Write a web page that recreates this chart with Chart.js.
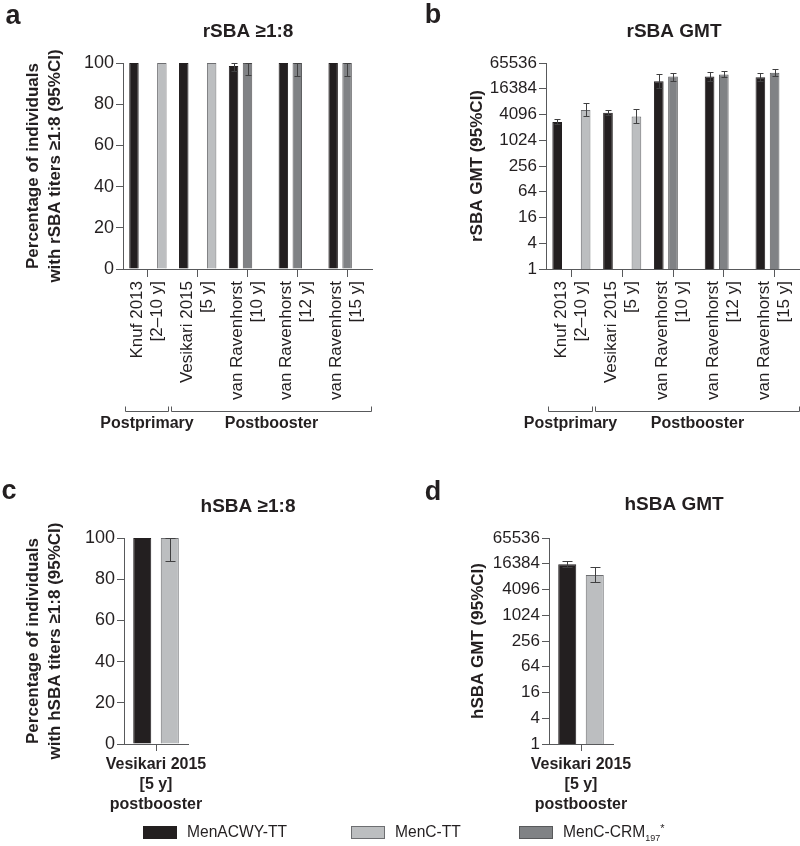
<!DOCTYPE html>
<html>
<head>
<meta charset="utf-8">
<script src="https://cdn.jsdelivr.net/npm/chart.js@4.4.1/dist/chart.umd.min.js"></script>
<style>
  html, body { margin: 0; padding: 0; background: #fff; }
  #wrap { position: relative; width: 800px; height: 846px; background: #fff; overflow: hidden; font-family: "Liberation Sans", Arial, sans-serif; color: #231f20; }
  canvas { position: absolute; }
  .lbox { position: absolute; width: 32px; height: 11px; border: 1px solid #555; }
  .ltxt { position: absolute; font-size: 15.6px; line-height: 16px; white-space: nowrap; }
  .ltxt sub { font-size: 9px; vertical-align: -4px; line-height: 0; }
  .ltxt sup { font-size: 11px; vertical-align: 5px; line-height: 0; }
</style>
</head>
<body>
<div id="wrap">
  <canvas id="ca" width="400" height="440" style="left:0;top:0;width:400px;height:440px"></canvas>
  <canvas id="cb" width="400" height="440" style="left:400px;top:0;width:400px;height:440px"></canvas>
  <canvas id="cc" width="400" height="406" style="left:0;top:440px;width:400px;height:406px"></canvas>
  <canvas id="cd" width="400" height="406" style="left:400px;top:440px;width:400px;height:406px"></canvas>

  <div class="lbox" style="left:143px;top:826px;background:#231f20;border-color:#231f20"></div>
  <div class="ltxt" style="left:187px;top:824px">MenACWY-TT</div>
  <div class="lbox" style="left:351px;top:826px;background:#bcbec0;border-color:#6d6e71"></div>
  <div class="ltxt" style="left:395px;top:824px">MenC-TT</div>
  <div class="lbox" style="left:519px;top:826px;background:#808285;border-color:#58595b"></div>
  <div class="ltxt" style="left:563px;top:824px">MenC-CRM<sub>197</sub><sup>*</sup></div>
</div>
<script>
// ---------- data ----------
const studyLabels = [["Knuf 2013", "[2\u201310 y]"], ["Vesikari 2015", "[5 y]"], ["van Ravenhorst", "[10 y]"], ["van Ravenhorst", "[12 y]"], ["van Ravenhorst", "[15 y]"]];
const hsbaLabels = [["Vesikari 2015", "[5 y]", "postbooster"]];
const seriesNames = ["MenACWY-TT", "MenC-TT", "MenC-CRM197*"];
const groupNames = ["Postprimary", "Postbooster"];

// panel a: rSBA >= 1:8 (%)
const rPctACWY = [100, 100, 98.5, 100, 100];
const rPctACWYLo = [null, null, 96, null, null];
const rPctACWYHi = [null, null, 100, null, null];
const rPctCRM = [null, null, 100, 100, 100];
const rPctCRMLo = [null, null, 94, 93.7, 93.7];
const rPctCRMHi = [null, null, 100, 100, 100];
const rPctTT = [100, 100, null, null, null];

// panel b: rSBA GMT
const rGmtACWY = [2750, 4500, 24500, 31500, 30300];
const rGmtACWYLo = [2400, 4000, 17000, 25000, 24500];
const rGmtACWYHi = [3300, 5200, 36400, 40400, 39000];
const rGmtCRM = [null, null, 31500, 35100, 39000];
const rGmtCRMLo = [null, null, 25300, 30300, 32800];
const rGmtCRMHi = [null, null, 37700, 41800, 46400];
const rGmtTT = [5200, 3700, null, null, null];
const rGmtTTLo = [3770, 2530, null, null, null];
const rGmtTTHi = [7440, 5400, null, null, null];

// panel c: hSBA >= 1:8 (%)
const hPctACWY = [100];
const hPctTT = [100];
const hPctTTLo = [89];
const hPctTTHi = [100];

// panel d: hSBA GMT
const hGmtACWY = [15850];
const hGmtACWYLo = [13500];
const hGmtACWYHi = [18900];
const hGmtTT = [8900];
const hGmtTTLo = [6100];
const hGmtTTHi = [13500];

const pctTicks = [0, 20, 40, 60, 80, 100];
const gmtTicks = [1, 4, 16, 64, 256, 1024, 4096, 16384, 65536];

// ---------- styles ----------
const FONT = '"Liberation Sans", Arial, sans-serif';
const TXT = '#231f20';
const AX = '#58595b';
const C_ACWY = '#231f20', B_ACWY = '#231f20';
const C_TT = '#bcbec0', B_TT = '#6d6e71';
const C_CRM = '#808285', B_CRM = '#58595b';

Chart.defaults.font.family = FONT;
Chart.defaults.color = TXT;

const annot = {
  id: 'annot',
  afterDatasetsDraw(chart) {
    const ctx = chart.ctx, ys = chart.scales.y;
    ctx.save();
    ctx.strokeStyle = '#404041';
    ctx.lineWidth = 1;
    chart.data.datasets.forEach((ds, di) => {
      if (!ds.errLo) return;
      const meta = chart.getDatasetMeta(di);
      meta.data.forEach((bar, i) => {
        const lo = ds.errLo[i], hi = ds.errHi[i];
        if (lo == null || hi == null) return;
        const x = Math.round(bar.x) + 0.5;
        const y1 = Math.round(ys.getPixelForValue(lo)) + 0.5;
        const y2 = Math.round(ys.getPixelForValue(hi)) + 0.5;
        const cw = ds.capW || 3;
        ctx.beginPath();
        ctx.moveTo(x, y1); ctx.lineTo(x, y2);
        ctx.moveTo(x - cw, y1); ctx.lineTo(x + cw, y1);
        ctx.moveTo(x - cw, y2); ctx.lineTo(x + cw, y2);
        ctx.stroke();
      });
    });
    ctx.restore();
  },
  afterDraw(chart, args, o) {
    const ctx = chart.ctx;
    ctx.save();
    ctx.fillStyle = TXT;
    // panel letter
    ctx.font = 'bold 27px ' + FONT;
    ctx.textAlign = 'center'; ctx.textBaseline = 'alphabetic';
    ctx.fillText(o.letter, o.letterX, o.letterY);
    // panel title
    ctx.font = 'bold 19px ' + FONT;
    ctx.textBaseline = 'middle';
    ctx.fillText(o.title, o.titleX, o.titleY);
    // rotated category labels, placed at the category scale's own tick pixels
    if (o.rotLabels) {
      const xs = chart.scales.x;
      ctx.font = '17px ' + FONT;
      ctx.textAlign = 'right'; ctx.textBaseline = 'middle';
      chart.data.labels.forEach((lines, i) => {
        const px = xs.getPixelForValue(i);
        const n = lines.length;
        lines.forEach((ln, k) => {
          ctx.save();
          ctx.translate(px + (k - (n - 1) / 2) * 20 - 0.5, xs.top + o.labelTop);
          ctx.rotate(-Math.PI / 2);
          ctx.fillText(ln, 0, 0);
          ctx.restore();
        });
      });
    }
    // group brackets
    if (o.brackets) {
      const xs = chart.scales.x, ca = chart.chartArea;
      const split = xs.getPixelForValue(0.5);
      const spans = [[ca.left + 1.5, split - 4.5], [split - 1.5, ca.right - 1.5]];
      ctx.strokeStyle = AX; ctx.lineWidth = 1;
      ctx.font = 'bold 16px ' + FONT;
      ctx.textAlign = 'center';
      ctx.textBaseline = 'alphabetic';
      spans.forEach((s, k) => {
        const a = Math.round(s[0]) + 0.5, b = Math.round(s[1]) + 0.5;
        ctx.beginPath();
        ctx.moveTo(a, o.bracketY - 5); ctx.lineTo(a, o.bracketY); ctx.lineTo(b, o.bracketY); ctx.lineTo(b, o.bracketY - 5);
        ctx.stroke();
        ctx.fillText(groupNames[k], (a + b) / 2, o.bracketY + 16.5);
      });
    }
    ctx.restore();
  }
};

function yPct(width, titleLines, titlePad) {
  return {
    type: 'linear', min: 0, max: 100,
    afterBuildTicks: s => { s.ticks = pctTicks.map(v => ({ value: v })); },
    afterFit: s => { s.width = width; s.paddingTop = 0; s.paddingBottom = 0; },
    ticks: { font: { size: 18 }, color: TXT, padding: 2 },
    grid: { drawOnChartArea: false, tickLength: 7, color: AX },
    border: { color: AX },
    title: { display: true, text: titleLines, font: { size: 17, weight: 'bold', lineHeight: 1.3 }, color: TXT, padding: { top: titlePad, bottom: 0 } }
  };
}
function yGmt(width, titleText, titlePad) {
  return {
    type: 'logarithmic', min: 1, max: 65536,
    afterBuildTicks: s => { s.ticks = gmtTicks.map(v => ({ value: v })); },
    afterFit: s => { s.width = width; s.paddingTop = 0; s.paddingBottom = 0; },
    ticks: { font: { size: 17 }, color: TXT, padding: 2, callback: v => String(v) },
    grid: { drawOnChartArea: false, tickLength: 7, color: AX },
    border: { color: AX },
    title: { display: true, text: titleText, font: { size: 17, weight: 'bold', lineHeight: 1.3 }, color: TXT, padding: { top: titlePad, bottom: 0 } }
  };
}
function xRot(height) {
  return {
    type: 'category',
    afterFit: s => { s.height = height; s.paddingLeft = 0; s.paddingRight = 0; },
    ticks: { display: false, autoSkip: false },
    grid: { drawOnChartArea: false, offset: false, tickLength: 8, color: AX },
    border: { color: AX }
  };
}
function xFlat(height) {
  return {
    type: 'category',
    afterFit: s => { s.height = height; s.paddingLeft = 0; s.paddingRight = 0; },
    ticks: { font: { size: 16, weight: 'bold', lineHeight: 1.25 }, color: TXT, maxRotation: 0, minRotation: 0, autoSkip: false, padding: 4 },
    grid: { drawOnChartArea: false, offset: false, tickLength: 7, color: AX },
    border: { color: AX }
  };
}
function bar(label, data, bg, bd, lo, hi, extra) {
  return Object.assign({ label, data, backgroundColor: bg, borderColor: bd, borderWidth: 1, borderSkipped: 'start', errLo: lo, errHi: hi }, extra || {});
}
function common(padding, annotOpts) {
  return {
    responsive: false, animation: false, devicePixelRatio: 1,
    layout: { padding },
    plugins: { legend: { display: false }, tooltip: { enabled: false }, annot: annotOpts }
  };
}

// panel a
new Chart(document.getElementById('ca'), {
  type: 'bar',
  data: {
    labels: studyLabels,
    datasets: [
      bar(seriesNames[0], rPctACWY, C_ACWY, B_ACWY, rPctACWYLo, rPctACWYHi),
      bar(seriesNames[2], rPctCRM, C_CRM, B_CRM, rPctCRMLo, rPctCRMHi),
      bar(seriesNames[1], rPctTT, C_TT, B_TT, null, null)
    ].map(d => Object.assign(d, { categoryPercentage: 0.84, barPercentage: 0.68 }))
  },
  options: Object.assign(common({ top: 63, left: 0, right: 28, bottom: 0 },
    { letter: 'a', letterX: 13, letterY: 24, title: 'rSBA \u22651:8', titleX: 248, titleY: 32, brackets: true, bracketY: 411.5, rotLabels: true, labelTop: 12 }),
    { scales: { x: xRot(171), y: yPct(123, ['Percentage of individuals', 'with rSBA titers \u22651:8 (95%CI)'], 22) } }),
  plugins: [annot]
});

// panel b
new Chart(document.getElementById('cb'), {
  type: 'bar',
  data: {
    labels: studyLabels,
    datasets: [
      bar(seriesNames[0], rGmtACWY, C_ACWY, B_ACWY, rGmtACWYLo, rGmtACWYHi),
      bar(seriesNames[2], rGmtCRM, C_CRM, B_CRM, rGmtCRMLo, rGmtCRMHi),
      bar(seriesNames[1], rGmtTT, C_TT, B_TT, rGmtTTLo, rGmtTTHi)
    ].map(d => Object.assign(d, { categoryPercentage: 0.84, barPercentage: 0.68 }))
  },
  options: Object.assign(common({ top: 63, left: 0, right: 0, bottom: 0 },
    { letter: 'b', letterX: 33, letterY: 23, title: 'rSBA GMT', titleX: 274, titleY: 32, brackets: true, bracketY: 411.5, rotLabels: true, labelTop: 12 }),
    { scales: { x: xRot(171), y: yGmt(146, 'rSBA GMT (95%CI)', 66) } }),
  plugins: [annot]
});

// panel c
new Chart(document.getElementById('cc'), {
  type: 'bar',
  data: {
    labels: hsbaLabels,
    datasets: [
      bar(seriesNames[0], hPctACWY, C_ACWY, B_ACWY, null, null),
      bar(seriesNames[1], hPctTT, C_TT, B_TT, hPctTTLo, hPctTTHi, { capW: 5 })
    ].map(d => Object.assign(d, { categoryPercentage: 0.86, barPercentage: 0.655 }))
  },
  options: Object.assign(common({ top: 98, left: 0, right: 212, bottom: 0 },
    { letter: 'c', letterX: 9, letterY: 59, title: 'hSBA \u22651:8', titleX: 248, titleY: 67 }),
    { scales: { x: xFlat(102), y: yPct(124, ['Percentage of individuals', 'with hSBA titers \u22651:8 (95%CI)'], 22) } }),
  plugins: [annot]
});

// panel d
new Chart(document.getElementById('cd'), {
  type: 'bar',
  data: {
    labels: hsbaLabels,
    datasets: [
      bar(seriesNames[0], hGmtACWY, C_ACWY, B_ACWY, hGmtACWYLo, hGmtACWYHi, { capW: 5 }),
      bar(seriesNames[1], hGmtTT, C_TT, B_TT, hGmtTTLo, hGmtTTHi, { capW: 5 })
    ].map(d => Object.assign(d, { categoryPercentage: 0.86, barPercentage: 0.655 }))
  },
  options: Object.assign(common({ top: 98, left: 0, right: 187, bottom: 0 },
    { letter: 'd', letterX: 33, letterY: 60, title: 'hSBA GMT', titleX: 274, titleY: 65 }),
    { scales: { x: xFlat(102), y: yGmt(149, 'hSBA GMT (95%CI)', 67) } }),
  plugins: [annot]
});
</script>
</body>
</html>
